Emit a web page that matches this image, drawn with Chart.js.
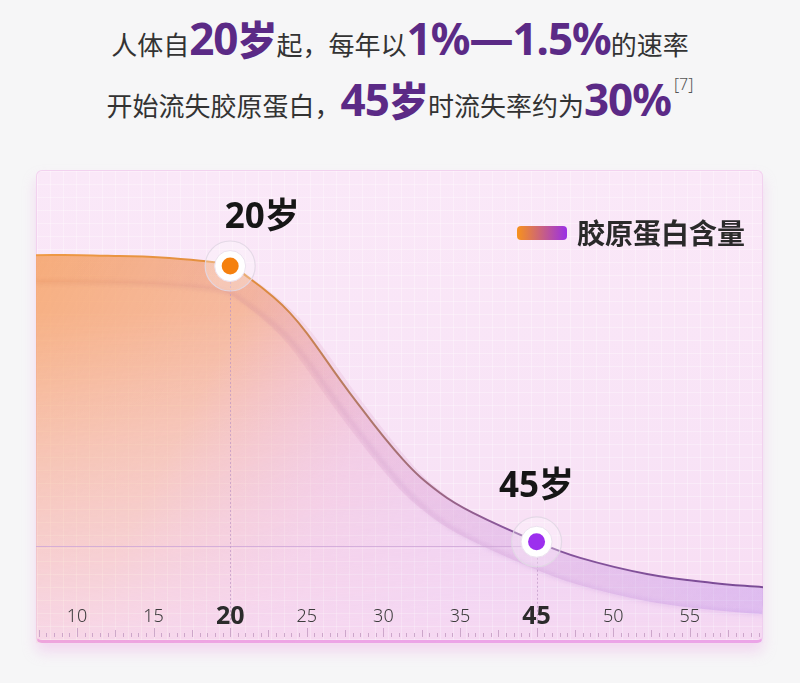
<!DOCTYPE html>
<html lang="zh-CN">
<head>
<meta charset="utf-8">
<title>胶原蛋白含量</title>
<script src="https://cdn.jsdelivr.net/npm/chart.js@4.4.1/dist/chart.umd.min.js"></script>
<style>
  html, body { margin: 0; padding: 0; }
  body {
    width: 800px; height: 683px; position: relative; overflow: hidden;
    background: #f6f6f7;
    font-family: "Noto Sans CJK SC", "Noto Sans", sans-serif;
  }
  .headline {
    position: absolute; left: 0; width: 800px; text-align: center;
    color: #333; font-size: 26px; line-height: 56px; white-space: nowrap;
  }
  .l1 { top: 10px; }
  .l2 { top: 56px; }
  .hl {
    color: #5b2a86; font-weight: 700; font-size: 44px; letter-spacing: -1px;
    font-family: "Noto Sans", "Noto Sans CJK SC", sans-serif;
  }
  .hl .cjk { font-family: "Noto Sans CJK SC", sans-serif; font-weight: 900; font-size: 40px; }
  .ref { font-size: 16px; color: #555; vertical-align: 26px; margin-left: 3px; font-family: "Noto Sans", sans-serif; font-weight: 300; }
  .card {
    position: absolute; left: 36px; top: 170px; width: 727px; height: 473px;
    box-sizing: border-box; border-radius: 6px;
    border: 1px solid #f2d2ef; border-bottom: 3px solid #eea5e7;
    background-color: #f9e4f6;
    background-image:
      linear-gradient(rgba(255,255,255,0.3) 1px, transparent 1px),
      linear-gradient(90deg, rgba(255,255,255,0.3) 1px, transparent 1px),
      linear-gradient(180deg, #fae8f8 0%, #f8e3f6 60%, #f8dcf3 100%);
    background-size: 13px 13px, 13px 13px, 100% 100%;
    box-shadow: 0 9px 14px rgba(236, 160, 228, 0.35);
  }
  #chartWrap { position: absolute; left: 36px; top: 170px; width: 727px; height: 473px; }
</style>
</head>
<body>
<div class="headline l1">人体自<span class="hl">20<span class="cjk">岁</span></span>起，每年以<span class="hl">1%—1.5%</span>的速率</div>
<div class="headline l2">开始流失胶原蛋白，<span class="hl">45<span class="cjk">岁</span></span>时流失率约为<span class="hl">30%</span><span class="ref">[7]</span></div>
<div class="card"></div>
<div id="chartWrap"><canvas id="collagenChart"></canvas></div>
<script>
// ruler labels, evenly spaced along the ruler (the picture puts 45 where 40 would be)
const rulerLabels = ["10", "15", "20", "25", "30", "35", "45", "50", "55"];
const boldLabels = ["20", "45"];

// collagen curve, x = position on the ruler (0 = "10"), y = relative level
const curvePos = [-0.54, 0.04, 0.56, 0.99, 1.61, 2, 2.26, 2.56, 2.78, 3.0, 3.56, 4.26, 4.74, 5.17, 6, 6.57, 7.44, 8.3, 8.96];
const curveLevel = [82.0, 82.0, 81.8, 81.6, 80.8, 79.7, 77.0, 73.2, 69.8, 65.5, 52.9, 38.7, 31.7, 27.5, 21.4, 18.0, 14.6, 12.7, 11.8];

// highlighted ages
const milestoneNames = ["20岁", "45岁"];
const milestonePos = [2, 6];
const milestoneLevel = [79.7, 21.4];

const seriesName = "胶原蛋白含量";

const orange = "#f5800e";
const purple = "#9c2fee";

let fillCache = null;
function areaFill(context) {
  const chart = context.chart;
  const a = chart.chartArea;
  if (!a) return "rgba(0,0,0,0)";
  const key = a.left + "," + a.top + "," + a.right + "," + a.bottom;
  if (fillCache && fillCache.key === key) return fillCache.pattern;
  const c = document.createElement("canvas");
  c.width = chart.width;
  c.height = chart.height;
  const g = c.getContext("2d");
  const h = g.createLinearGradient(a.left, a.top + a.height * 0.2, a.right, a.bottom);
  h.addColorStop(0, "rgba(246,166,108,0.85)");
  h.addColorStop(0.25, "rgba(244,168,126,0.72)");
  h.addColorStop(0.45, "rgba(234,162,196,0.5)");
  h.addColorStop(0.65, "rgba(214,160,238,0.42)");
  h.addColorStop(1, "rgba(206,160,240,0.42)");
  g.fillStyle = h;
  g.fillRect(0, 0, c.width, c.height);
  g.globalCompositeOperation = "destination-in";
  const v = g.createLinearGradient(0, a.top, 0, a.bottom);
  v.addColorStop(0, "rgba(0,0,0,1)");
  v.addColorStop(0.3, "rgba(0,0,0,1)");
  v.addColorStop(0.8, "rgba(0,0,0,0.4)");
  v.addColorStop(1, "rgba(0,0,0,0.12)");
  g.fillStyle = v;
  g.fillRect(0, 0, c.width, c.height);
  fillCache = { key, pattern: chart.ctx.createPattern(c, "no-repeat") };
  return fillCache.pattern;
}

function lineStroke(context) {
  const a = context.chart.chartArea;
  if (!a) return orange;
  const g = context.chart.ctx.createLinearGradient(a.left, 0, a.right, 0);
  g.addColorStop(0, "#ef9a45");
  g.addColorStop(0.3, "#e08c3c");
  g.addColorStop(0.45, "#b07868");
  g.addColorStop(0.65, "#87559c");
  g.addColorStop(1, "#7a4b96");
  return g;
}

const decor = {
  id: "decor",
  beforeDatasetDraw(chart, args, opts) {
    if (args.index !== 0) return;
    const ctx = chart.ctx;
    const a = chart.chartArea;
    const line = args.meta.dataset;
    const x = chart.scales.x;
    const y = chart.scales.y;
    line.updateControlPoints(a, "x");

    // glass thickness band under the curve
    ctx.save();
    ctx.beginPath();
    ctx.rect(a.left, a.top, a.width, a.height);
    ctx.clip();
    const bg = ctx.createLinearGradient(a.left, 0, a.right, 0);
    bg.addColorStop(0, "rgba(240,150,90,0.12)");
    bg.addColorStop(0.45, "rgba(210,140,190,0.16)");
    bg.addColorStop(1, "rgba(170,120,230,0.28)");
    ctx.translate(0, opts.bandOffset);
    ctx.beginPath();
    line.path(ctx);
    ctx.lineWidth = opts.bandWidth;
    ctx.strokeStyle = bg;
    ctx.stroke();
    const eg = ctx.createLinearGradient(a.left, 0, a.right, 0);
    eg.addColorStop(0, "rgba(215,125,80,0.3)");
    eg.addColorStop(0.45, "rgba(180,120,180,0.26)");
    eg.addColorStop(1, "rgba(160,110,220,0.2)");
    ctx.translate(0, opts.bandWidth / 2);
    ctx.filter = "blur(2px)";
    ctx.beginPath();
    line.path(ctx);
    ctx.lineWidth = 3;
    ctx.strokeStyle = eg;
    ctx.stroke();
    ctx.restore();

    // guide lines through the highlighted ages
    ctx.save();
    ctx.lineWidth = 1;
    const px45 = x.getPixelForValue(milestonePos[1]);
    const py45 = y.getPixelForValue(milestoneLevel[1]);
    ctx.strokeStyle = "rgba(205,165,215,0.8)";
    ctx.beginPath();
    ctx.moveTo(a.left, Math.round(py45) + 4.5);
    ctx.lineTo(px45, Math.round(py45) + 4.5);
    ctx.stroke();
    ctx.setLineDash([2, 2]);
    ctx.strokeStyle = "rgba(190,150,195,0.7)";
    milestonePos.forEach((p, i) => {
      const px = Math.round(x.getPixelForValue(p)) + 0.5;
      const py = y.getPixelForValue(milestoneLevel[i]);
      ctx.beginPath();
      ctx.moveTo(px, py + 16);
      ctx.lineTo(px, opts.rulerBottom - 12);
      ctx.stroke();
    });
    ctx.restore();
  },
  afterDraw(chart, args, opts) {
    const ctx = chart.ctx;
    const a = chart.chartArea;
    const x = chart.scales.x;
    const y = chart.scales.y;

    // ruler ticks
    ctx.save();
    ctx.strokeStyle = "rgba(190,150,190,0.75)";
    ctx.lineWidth = 1;
    for (let t = Math.ceil(x.min * 10); t <= Math.floor(x.max * 10); t++) {
      const px = Math.round(x.getPixelForValue(t / 10)) + 0.5;
      const len = t % 10 === 0 ? 9 : t % 5 === 0 ? 7 : 4;
      ctx.beginPath();
      ctx.moveTo(px, opts.rulerBottom);
      ctx.lineTo(px, opts.rulerBottom - len);
      ctx.stroke();
    }
    // ruler labels
    ctx.textAlign = "center";
    ctx.textBaseline = "middle";
    rulerLabels.forEach((lab, i) => {
      const bold = boldLabels.includes(lab);
      ctx.font = bold ? "bold 25px 'Noto Sans', sans-serif" : "300 18px 'Noto Sans', sans-serif";
      ctx.fillStyle = bold ? "#2b2b2b" : "#3c3c3c";
      ctx.fillText(lab, x.getPixelForValue(i), opts.labelY);
    });

    // milestone captions
    ctx.font = "bold 35px 'Noto Sans', 'Noto Sans CJK SC', sans-serif";
    ctx.fillStyle = "#161616";
    milestoneNames.forEach((name, i) => {
      const off = opts.captionOffsets[i];
      ctx.fillText(name, x.getPixelForValue(milestonePos[i]) + off[0], y.getPixelForValue(milestoneLevel[i]) + off[1]);
    });

    // legend
    ctx.font = "bold 28px 'Noto Sans CJK SC', sans-serif";
    ctx.textAlign = "right";
    ctx.fillStyle = "#2a2a2a";
    const tx = a.right - 18;
    const ty = a.top + 63;
    ctx.fillText(seriesName, tx, ty);
    const w = ctx.measureText(seriesName).width;
    const bx = tx - w - 10 - 50;
    const lg = ctx.createLinearGradient(bx, 0, bx + 50, 0);
    lg.addColorStop(0, "#f7921c");
    lg.addColorStop(1, "#9a2fe6");
    ctx.fillStyle = lg;
    ctx.beginPath();
    ctx.roundRect(bx, ty - 7, 50, 14, 4);
    ctx.fill();
    ctx.restore();
  }
};

new Chart(document.getElementById("collagenChart"), {
  type: "line",
  data: {
    datasets: [
      {
        label: seriesName,
        data: curvePos.map((p, i) => ({ x: p, y: curveLevel[i] })),
        borderColor: lineStroke,
        borderWidth: 2,
        backgroundColor: areaFill,
        fill: "start",
        tension: 0.4,
        pointRadius: 0,
        order: 4,
      },
      {
        type: "scatter",
        data: milestonePos.map((p, i) => ({ x: p, y: milestoneLevel[i] })),
        pointRadius: 25,
        backgroundColor: "rgba(255,255,255,0.28)",
        borderColor: "rgba(225,215,228,0.9)",
        borderWidth: 1.2,
        order: 3,
      },
      {
        type: "scatter",
        data: milestonePos.map((p, i) => ({ x: p, y: milestoneLevel[i] })),
        pointRadius: 15.5,
        backgroundColor: "#ffffff",
        borderColor: "rgba(235,225,238,1)",
        borderWidth: 1,
        order: 2,
      },
      {
        type: "scatter",
        data: milestonePos.map((p, i) => ({ x: p, y: milestoneLevel[i] })),
        pointRadius: 8.5,
        backgroundColor: [orange, purple],
        borderWidth: 0,
        order: 1,
      },
    ],
  },
  options: {
    responsive: true,
    maintainAspectRatio: false,
    animation: false,
    layout: { padding: 0, autoPadding: false },
    scales: {
      x: { type: "linear", min: -0.535, max: 8.956, display: false },
      y: { min: 0, max: 100, display: false },
    },
    plugins: {
      legend: { display: false },
      tooltip: { enabled: false },
      decor: {
        bandOffset: 14,
        bandWidth: 26,
        rulerBottom: 467,
        labelY: 447,
        captionOffsets: [[32, -48], [0, -55]],
      },
    },
  },
  plugins: [decor],
});
</script>
</body>
</html>
